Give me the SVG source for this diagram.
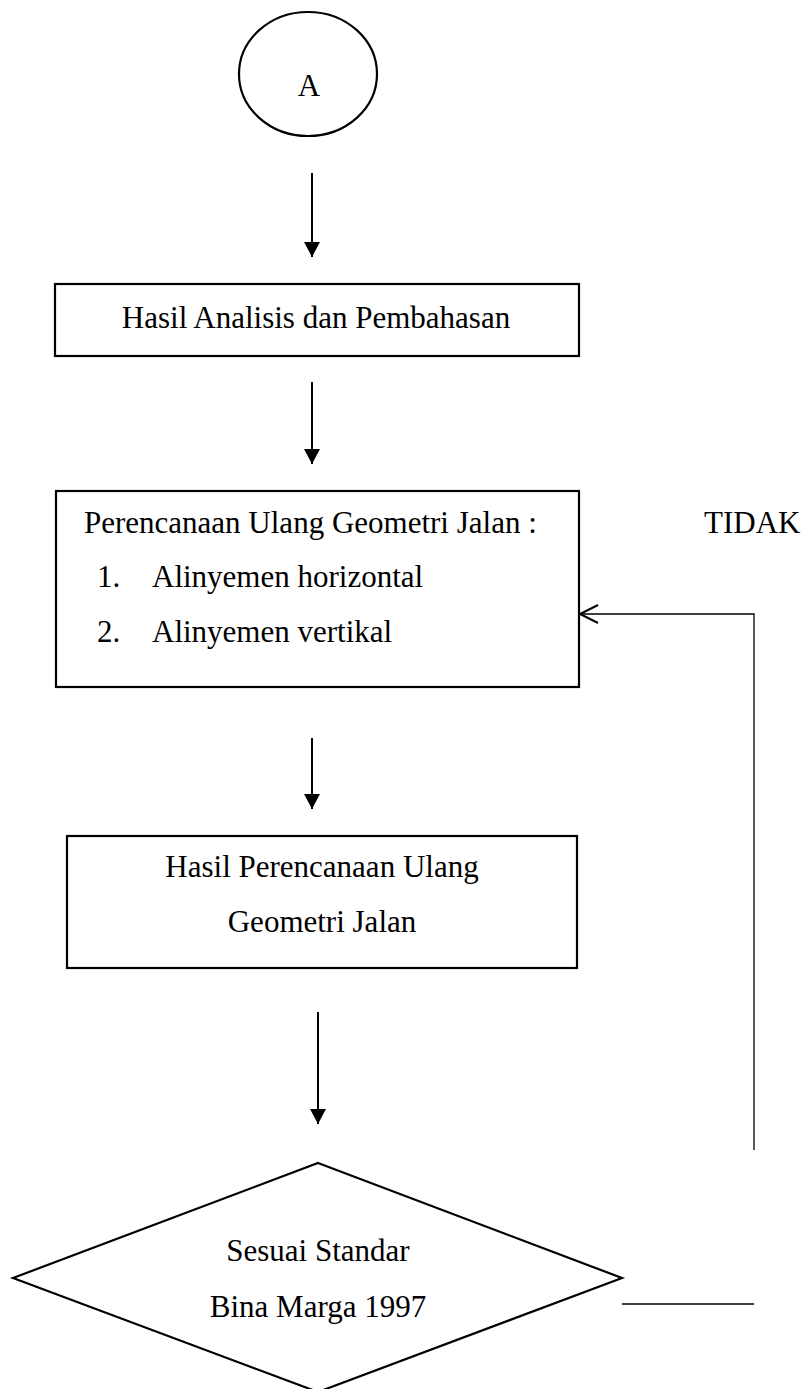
<svg xmlns="http://www.w3.org/2000/svg" width="809" height="1389" viewBox="0 0 809 1389">
<style>
.shape{fill:none;stroke:#000;stroke-width:2.2}
.line{fill:none;stroke:#000;stroke-width:2}
.thin{fill:none;stroke:#000;stroke-width:1.3}
text{font-family:"Liberation Serif","Times New Roman",serif;font-size:31px;fill:#000}
.c{text-anchor:middle}
</style>
<defs>
<marker id="ah" markerWidth="16" markerHeight="16" refX="15" refY="8" orient="auto" markerUnits="userSpaceOnUse">
<path d="M0,0 L15,8 L0,16 Z" fill="#000"/>
</marker>
<marker id="oh" markerWidth="22" markerHeight="22" refX="19" refY="11" orient="auto" markerUnits="userSpaceOnUse">
<path d="M1,2 L19,11 L1,20" fill="none" stroke="#000" stroke-width="2"/>
</marker>
</defs>
<rect width="809" height="1389" fill="#fff"/>
<g id="connectors">
<line class="line" x1="312" y1="173" x2="312" y2="257" marker-end="url(#ah)"/>
<line class="line" x1="312" y1="382" x2="312" y2="464" marker-end="url(#ah)"/>
<line class="line" x1="312" y1="738" x2="312" y2="809" marker-end="url(#ah)"/>
<line class="line" x1="318" y1="1012" x2="318" y2="1124" marker-end="url(#ah)"/>
<polyline class="thin" points="754,1150 754,614 580,614" marker-end="url(#oh)"/>
<line class="thin" x1="622" y1="1304" x2="754" y2="1304"/>
<text x="704" y="533">TIDAK</text>
</g>
<g id="node-a">
<ellipse class="shape" cx="308" cy="74" rx="69" ry="62"/>
<text class="c" x="309" y="96">A</text>
</g>
<g id="node-hasil-analisis">
<rect class="shape" x="55" y="284" width="524" height="72"/>
<text class="c" x="316" y="328">Hasil Analisis dan Pembahasan</text>
</g>
<g id="node-perencanaan">
<rect class="shape" x="56" y="491" width="523" height="196"/>
<text x="84" y="533">Perencanaan Ulang Geometri Jalan :</text>
<text x="97" y="587">1.</text>
<text x="152" y="587">Alinyemen horizontal</text>
<text x="97" y="642">2.</text>
<text x="152" y="642">Alinyemen vertikal</text>
</g>
<g id="node-hasil-perencanaan">
<rect class="shape" x="67" y="836" width="510" height="132"/>
<text class="c" x="322" y="877">Hasil Perencanaan Ulang</text>
<text class="c" x="322" y="932">Geometri Jalan</text>
</g>
<g id="node-sesuai">
<polygon class="shape" points="318,1163 622,1278 318,1392 13,1278"/>
<text class="c" x="318" y="1261">Sesuai Standar</text>
<text class="c" x="318" y="1317">Bina Marga 1997</text>
</g>
</svg>
